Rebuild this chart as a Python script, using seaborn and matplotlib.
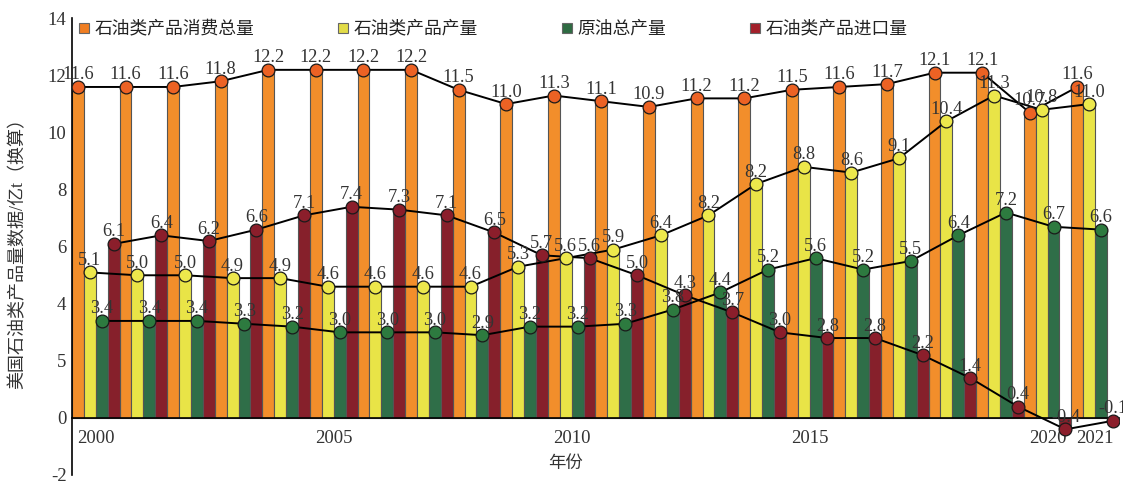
import matplotlib
matplotlib.use("Agg")
import matplotlib.pyplot as plt
from matplotlib.lines import Line2D
import seaborn as sns
import pandas as pd

# ---------------- data ----------------
years = [str(y) for y in range(2000, 2022)]
consumption = [11.6, 11.6, 11.6, 11.8, 12.2, 12.2, 12.2, 12.2, 11.5, 11.0, 11.3,
               11.1, 10.9, 11.2, 11.2, 11.5, 11.6, 11.7, 12.1, 12.1, 10.7, 11.6]
production = [5.1, 5.0, 5.0, 4.9, 4.9, 4.6, 4.6, 4.6, 4.6, 5.3, 5.6,
              5.9, 6.4, 7.1, 8.2, 8.8, 8.6, 9.1, 10.4, 11.3, 10.8, 11.0]
production_labels = ["5.1", "5.0", "5.0", "4.9", "4.9", "4.6", "4.6", "4.6", "4.6", "5.3", "5.6",
                     "5.9", "6.4", "8.2", "8.2", "8.8", "8.6", "9.1", "10.4", "11.3", "10.8", "11.0"]
crude = [3.4, 3.4, 3.4, 3.3, 3.2, 3.0, 3.0, 3.0, 2.9, 3.2, 3.2,
         3.3, 3.8, 4.4, 5.2, 5.6, 5.2, 5.5, 6.4, 7.2, 6.7, 6.6]
imports = [6.1, 6.4, 6.2, 6.6, 7.1, 7.4, 7.3, 7.1, 6.5, 5.7, 5.6,
           5.0, 4.3, 3.7, 3.0, 2.8, 2.8, 2.2, 1.4, 0.4, -0.4, -0.1]

series_names = ["石油类产品消费总量", "石油类产品产量", "原油总产量", "石油类产品进口量"]
series_values = [consumption, production, crude, imports]
series_labels = [[f"{v:.1f}" for v in consumption], production_labels,
                 [f"{v:.1f}" for v in crude], [f"{v:.1f}" for v in imports]]

shown_years = ["2000", "2005", "2010", "2015", "2020", "2021"]
ytick_values = [-2, 0, 2, 4, 6, 8, 10, 12, 14]
ytick_labels = ["-2", "0", "5", "4", "6", "8", "10", "12", "14"]

# ---------------- style ----------------
bar_colors = ["#F28E2B", "#E9E447", "#2F6E48", "#86202B"]
marker_colors = ["#EC6224", "#EDE84C", "#2D7A3F", "#8B1E2B"]
legend_colors = ["#F07E22", "#E2DC48", "#2E6B42", "#A3202A"]

sns.set_style("white")
plt.rcParams["font.family"] = ["Liberation Serif", "Noto Sans CJK SC"]
plt.rcParams["axes.unicode_minus"] = False

rows = []
for name, vals in zip(series_names, series_values):
    for y, v in zip(years, vals):
        rows.append({"year": y, "value": v, "series": name})
df = pd.DataFrame(rows)

fig = plt.figure(figsize=(11.23, 4.84), dpi=100)
ax = fig.add_axes([0.0641, 0.0186, 0.9323, 0.9432])

sns.barplot(data=df, x="year", y="value", hue="series", hue_order=series_names,
            order=years, palette=bar_colors, width=1.0, gap=0, dodge=True,
            errorbar=None, edgecolor="#555555", linewidth=0.8, legend=False,
            saturation=1, ax=ax, zorder=2)

# lines + markers through bar centres
for cont, vals, labs, mc in zip(ax.containers, series_values, series_labels, marker_colors):
    xs = [p.get_x() + p.get_width() / 2 for p in cont.patches]
    ax.plot(xs, vals, color="black", lw=1.4, zorder=4)
    ax.plot(xs, vals, linestyle="none", marker="o", markersize=9.2,
            markerfacecolor=mc, markeredgecolor="#1a1a1a", markeredgewidth=0.9, zorder=5)
    for x, v, t in zip(xs, vals, labs):
        ax.annotate(t, (x, v), xytext=(0, 2.5), textcoords="offset points",
                    ha="center", va="bottom", fontsize=13.2, color="#333333", zorder=6)

ax.set_ylim(-2, 14)
ax.set_xlim(-0.5, len(years) - 0.5)

# axes decorations
for s in ["top", "right"]:
    ax.spines[s].set_visible(False)
ax.spines["left"].set_color("black")
ax.spines["left"].set_linewidth(1.2)
ax.spines["bottom"].set_position(("data", 0))
ax.spines["bottom"].set_color("black")
ax.spines["bottom"].set_linewidth(1.2)
ax.spines["bottom"].set_zorder(3)

ax.set_yticks(ytick_values)
ax.set_yticklabels(ytick_labels, fontsize=13.5, color="#333333")
ax.tick_params(axis="y", length=0, pad=4)
ax.set_yticks([-2, 14], minor=True)
ax.tick_params(axis="y", which="minor", direction="in", length=5, width=1.2, color="black")

ax.set_xticks([years.index(y) for y in shown_years])
ax.set_xticklabels(shown_years, fontsize=13.5, color="#333333")
ax.tick_params(axis="x", length=0, pad=9)

ax.set_xlabel("年份", fontsize=12.5, color="#333333")
ax.xaxis.set_label_coords(0.471, 0.042)
ax.set_ylabel("美国石油类产品量数据/亿t（换算）", fontsize=13, color="#333333")
ax.yaxis.set_label_coords(-0.043, 0.495)

handles = [Line2D([], [], marker="s", linestyle="none", markersize=6.5,
                  markerfacecolor=c, markeredgecolor="#666666", markeredgewidth=0.8)
           for c in legend_colors]
ax.legend(handles, series_names, loc="upper left", bbox_to_anchor=(0.006, 0.995),
          ncol=4, frameon=False, fontsize=12.8, handlelength=0.6, handletextpad=0.3,
          columnspacing=4.7, borderpad=0, borderaxespad=0, labelcolor="#222222")

fig.savefig("out.png", dpi=100)
